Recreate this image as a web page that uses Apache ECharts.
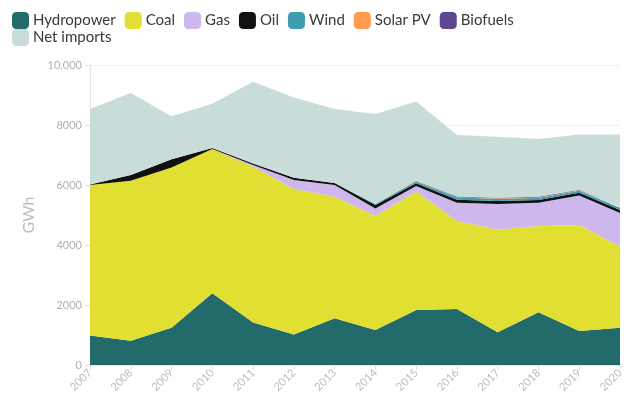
<!DOCTYPE html>
<html>
<head>
<meta charset="utf-8">
<script src="https://cdn.jsdelivr.net/npm/echarts@6/dist/echarts.min.js"></script>
<style>
html,body{margin:0;padding:0;background:#fff;}
#chart{width:640px;height:413px;}
</style>
</head>
<body>
<div id="chart"></div>
<script>
const years = ['2007','2008','2009','2010','2011','2012','2013','2014','2015','2016','2017','2018','2019','2020'];
const hydropower = [980, 810, 1240, 2390, 1420, 1020, 1560, 1170, 1830, 1870, 1090, 1760, 1130, 1240];
const coal = [5020, 5330, 5340, 4810, 5190, 4850, 4050, 3800, 3950, 2930, 3430, 2870, 3540, 2700];
const gas = [0, 0, 0, 0, 60, 300, 390, 250, 190, 610, 850, 780, 980, 1130];
const oil = [20, 190, 280, 30, 50, 70, 70, 110, 90, 100, 100, 90, 90, 100];
const wind = [0, 0, 0, 0, 0, 0, 0, 40, 60, 70, 70, 70, 70, 70];
const solarPV = [0, 0, 0, 0, 0, 0, 0, 0, 15, 15, 15, 15, 15, 15];
const biofuels = [0, 0, 0, 0, 0, 0, 0, 0, 10, 20, 20, 20, 20, 20];
const netImports = [2510, 2740, 1430, 1480, 2720, 2680, 2460, 3000, 2635, 2055, 2035, 1925, 1835, 2405];
const yTicks = [0, 2000, 4000, 6000, 8000, 10000];

const seriesDefs = [
  ['Hydropower', hydropower, '#236b6a'],
  ['Coal', coal, '#e1e032'],
  ['Gas', gas, '#cdb7ec'],
  ['Oil', oil, '#111111'],
  ['Wind', wind, '#3e9db0'],
  ['Solar PV', solarPV, '#ff9a4f'],
  ['Biofuels', biofuels, '#5c4591'],
  ['Net imports', netImports, '#c8dcd9']
];

const chart = echarts.init(document.getElementById('chart'), null, {renderer: 'canvas'});
const legendText = {fontFamily: 'Lato', fontSize: 15, color: '#3a3a3a', padding: [0, 0, 0, -1]};
chart.setOption({
  animation: false,
  backgroundColor: '#ffffff',
  legend: [
    {
      left: 12, top: 12, padding: 0, itemGap: 9, itemWidth: 17, itemHeight: 17,
      icon: 'roundRect', textStyle: legendText,
      data: seriesDefs.slice(0, 7).map(d => d[0])
    },
    {
      left: 12, top: 29, padding: 0, itemGap: 9, itemWidth: 17, itemHeight: 17,
      icon: 'roundRect', textStyle: legendText,
      data: ['Net imports']
    }
  ],
  grid: {left: 90, right: 20, top: 65, bottom: 48},
  xAxis: {
    type: 'category', data: years, boundaryGap: false,
    axisLine: {lineStyle: {color: '#e6e6e6'}},
    axisTick: {show: true, length: 5, lineStyle: {color: '#e0e0e0'}},
    axisLabel: {rotate: 45, fontFamily: 'Lato', fontSize: 11, color: '#bdbdbd', margin: 6}
  },
  yAxis: {
    type: 'value', min: 0, max: 10000, interval: 2000,
    name: 'GWh', nameLocation: 'middle', nameGap: 50,
    nameTextStyle: {fontFamily: 'Lato', fontSize: 16, color: '#bdbdbd'},
    axisLine: {show: true, lineStyle: {color: '#e6e6e6'}},
    axisTick: {show: true, length: 5, lineStyle: {color: '#e0e0e0'}},
    splitLine: {show: true, lineStyle: {color: '#f0f0f0'}},
    axisLabel: {
      fontFamily: 'Lato', fontSize: 11, color: '#b0b0b0', margin: 8,
      formatter: v => yTicks.includes(v) ? (v >= 10000 ? v.toLocaleString('en-US') : String(v)) : ''
    }
  },
  series: seriesDefs.map(d => ({
    name: d[0], type: 'line', stack: 'total', data: d[1],
    symbol: 'none', showSymbol: false,
    lineStyle: {width: 0},
    areaStyle: {color: d[2], opacity: 1},
    itemStyle: {color: d[2]}
  }))
});
</script>
</body>
</html>
